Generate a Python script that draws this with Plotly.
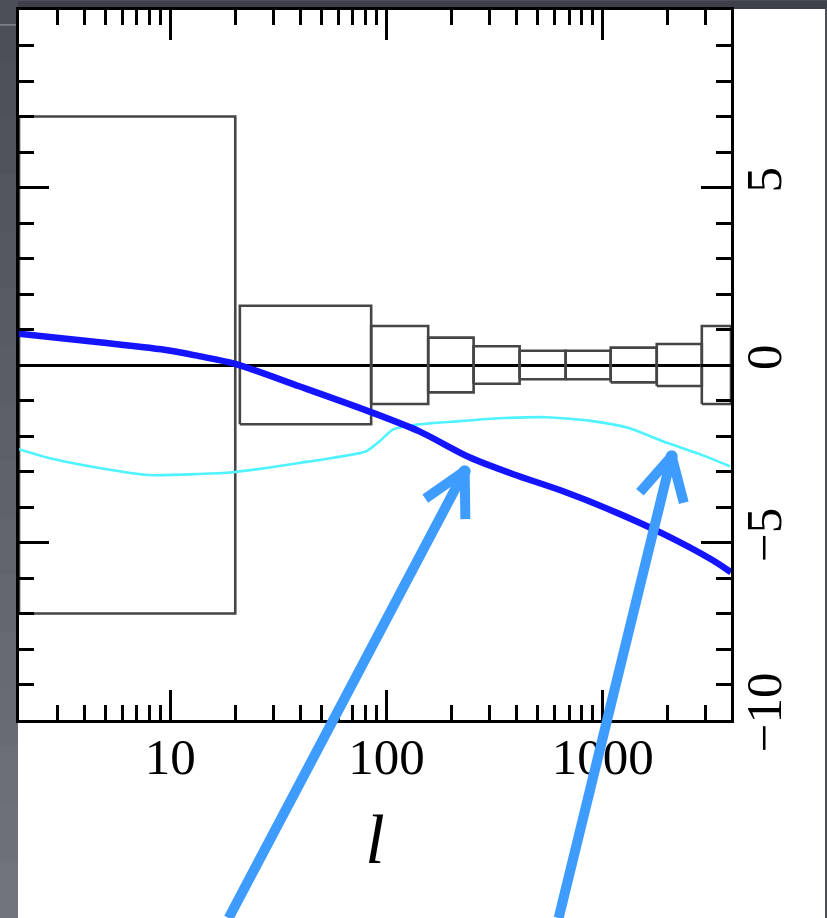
import math
import plotly.graph_objects as go

# ---------------- data ----------------
# error boxes: multipole bin edges and half-heights
bin_lo = [2, 21, 85, 156, 253, 413, 674, 1089, 1778, 2873]
bin_hi = [20, 85, 156, 253, 413, 674, 1089, 1778, 2873, 3920]
bin_err = [7.0, 1.67, 1.1, 0.77, 0.53, 0.4, 0.4, 0.49, 0.59, 1.1]

# dark blue curve
blue_l = [2, 4.7, 9.9, 13.6, 19.8, 39.5, 85, 142, 242, 383, 652, 1112, 1896, 3228, 3920]
blue_v = [0.88, 0.64, 0.41, 0.25, 0.04, -0.60, -1.33, -1.87, -2.60, -3.07, -3.55, -4.11, -4.75, -5.50, -5.84]

# cyan curve
cyan_l = [2, 2.75, 4.7, 8.0, 13.6, 19.4, 27.8, 39.5, 56, 80.7, 92.9, 107, 142, 218, 333, 550, 899, 1334, 1896, 2812, 3873]
cyan_v = [-2.37, -2.62, -2.90, -3.10, -3.07, -3.02, -2.90, -2.76, -2.62, -2.43, -2.15, -1.82, -1.67, -1.58, -1.50, -1.47, -1.58, -1.78, -2.15, -2.51, -2.85]

# pointer arrows (tips in data coordinates)
arrow_tip_l = [230, 2084]
arrow_tip_v = [-2.99, -2.57]

# tick labels
x_tickvals = [10, 100, 1000]
x_ticktext = ["10", "100", "1000"]
y_tickvals = [-10, -5, 0, 5]
y_ticktext = ["\u221210", "\u22125", "0", "5"]

# ---------------- figure ----------------
W, H = 827, 918
ML, MR, MT, MB = 19, 96, 7, 198
PW, PH = W - ML - MR, H - MT - MB


def px_x(p):
    return (p - ML) / PW


def px_y(p):
    return (H - MB - p) / PH


fig = go.Figure()

bx, by = [], []
for lo, hi, e in zip(bin_lo, bin_hi, bin_err):
    bx += [lo, hi, hi, lo, lo, None]
    by += [-e, -e, e, e, -e, None]
fig.add_trace(go.Scatter(x=bx, y=by, mode="lines",
                         line=dict(color="#454545", width=2.6),
                         hoverinfo="skip", showlegend=False))

fig.add_trace(go.Scatter(x=cyan_l, y=cyan_v, mode="lines",
                         line=dict(color="#4ef3ff", width=2.6, shape="spline", smoothing=0.6),
                         showlegend=False))
fig.add_trace(go.Scatter(x=blue_l, y=blue_v, mode="lines",
                         line=dict(color="#1414ff", width=6.5, shape="spline", smoothing=0.8),
                         showlegend=False))

# background: dark screenshot frame + white sheet
shapes = []
shapes.append(dict(type="rect", xref="paper", yref="paper",
                   x0=px_x(18), x1=px_x(825), y0=px_y(H + 5), y1=px_y(6),
                   fillcolor="white", line=dict(width=0), layer="below"))
nb = 16
c0 = (0x4c, 0x4f, 0x58)
c1 = (0x70, 0x73, 0x7c)
for i in range(nb):
    t = i / (nb - 1)
    col = "rgb(%d,%d,%d)" % tuple(int(a + (b - a) * t) for a, b in zip(c0, c1))
    shapes.append(dict(type="rect", xref="paper", yref="paper",
                       x0=px_x(-2), x1=px_x(18),
                       y0=px_y(H * (i + 1) / nb + 1), y1=px_y(H * i / nb),
                       fillcolor=col, line=dict(width=0), layer="below"))
shapes.append(dict(type="rect", xref="paper", yref="paper",
                   x0=px_x(18), x1=px_x(W + 2), y0=px_y(6), y1=px_y(-2),
                   fillcolor="#3e4149", line=dict(width=0), layer="below"))
shapes.append(dict(type="line", xref="paper", yref="paper",
                   x0=px_x(0), x1=px_x(17), y0=px_y(22), y1=px_y(22),
                   line=dict(color="#a3a5ab", width=1), layer="below"))

# arrows: shaft + two chevron arms, each a head-less annotation line
ann = []
shaft_offsets = [(-236, 460), (-113, 475)]
arm_len = 48
arm_spread = 28
AC = "#3f9cff"
AW = 10
for tl, tv, (sx, sy) in zip(arrow_tip_l, arrow_tip_v, shaft_offsets):
    common = dict(x=math.log10(tl), y=tv, xref="x", yref="y", text="", showarrow=True,
                  font=dict(size=1), borderpad=0, borderwidth=0,
                  arrowcolor=AC, arrowwidth=AW, standoff=0, startstandoff=0)
    ann.append(dict(common, ax=sx, ay=sy, arrowhead=6, arrowsize=0.3, arrowside="end"))
    base = math.degrees(math.atan2(sy, sx))
    for sgn in (1, -1):
        a = math.radians(base + sgn * arm_spread)
        ann.append(dict(common, ax=arm_len * math.cos(a), ay=arm_len * math.sin(a),
                        arrowhead=0))

axis_font = dict(family="Liberation Serif", size=51, color="black")

fig.update_layout(
    width=W, height=H,
    margin=dict(l=ML, r=MR, t=MT, b=MB, pad=0),
    paper_bgcolor="#4c4f58",
    plot_bgcolor="white",
    shapes=shapes,
    annotations=ann,
    showlegend=False,
    xaxis=dict(
        type="log", range=[math.log10(2), 3.5933],
        tickvals=x_tickvals, ticktext=x_ticktext,
        ticks="inside", ticklen=30, tickwidth=3, tickcolor="black",
        minor=dict(ticks="inside", ticklen=15, tickwidth=3, tickcolor="black", dtick="D1", showgrid=False),
        showline=True, linecolor="black", linewidth=3, mirror="allticks",
        showgrid=False, zeroline=False,
        tickfont=axis_font, ticklabelstandoff=-10,
        title=dict(text="<i>l</i>", font=dict(family="Liberation Serif", size=70, color="black"), standoff=30),
    ),
    yaxis=dict(
        range=[-10, 10], side="right",
        tickvals=y_tickvals, ticktext=y_ticktext, tickangle=-90,
        ticks="inside", ticklen=30, tickwidth=3, tickcolor="black",
        minor=dict(ticks="inside", ticklen=15, tickwidth=3, tickcolor="black", dtick=1, tick0=0, showgrid=False),
        showline=True, linecolor="black", linewidth=3, mirror="allticks",
        showgrid=False, zeroline=True, zerolinecolor="black", zerolinewidth=3,
        tickfont=axis_font, ticklabelstandoff=-14,
    ),
)

fig.write_html("out.html")
